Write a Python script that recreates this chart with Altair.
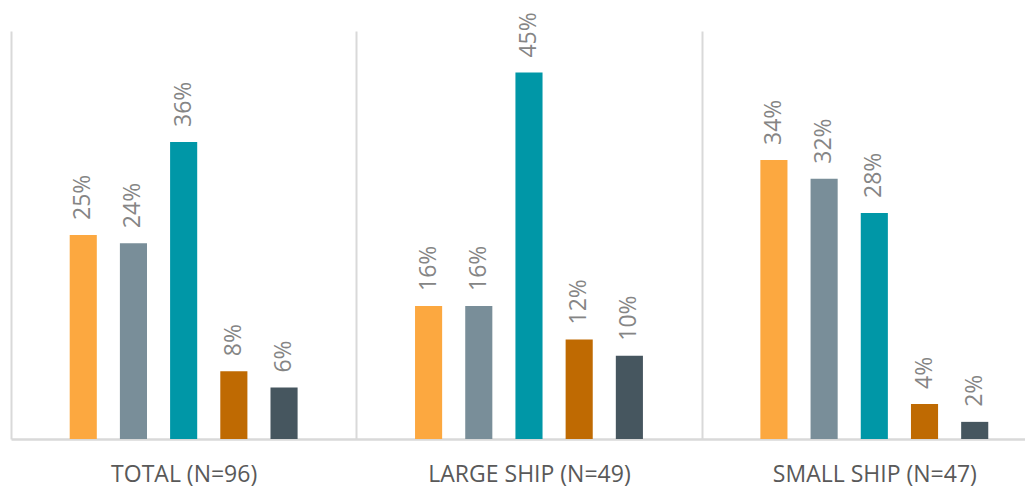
import altair as alt
import pandas as pd

groups = ["TOTAL (N=96)", "LARGE SHIP (N=49)", "SMALL SHIP (N=47)"]
categories = ["Option 1", "Option 2", "Option 3", "Option 4", "Option 5"]
total_values = [25.0, 24.0, 36.4, 8.3, 6.3]
large_values = [16.3, 16.3, 44.9, 12.2, 10.2]
small_values = [34.2, 31.9, 27.7, 4.3, 2.1]
colors = ["#FCA840", "#798E99", "#0097A7", "#BF6A02", "#46565F"]

rows = []
for g, vals in zip(groups, [total_values, large_values, small_values]):
    for c, v in zip(categories, vals):
        rows.append({"group": g, "category": c, "value": v})
df = pd.DataFrame(rows)

x_enc = alt.X(
    "group:N",
    sort=groups,
    scale=alt.Scale(range=[0, 1036], paddingInner=0, paddingOuter=0),
    axis=alt.Axis(
        title=None,
        labelAngle=0,
        labelFont="Open Sans",
        labelFontSize=23,
        labelColor="#595959",
        labelPadding=24,
        labelLimit=0,
        ticks=False,
        domainColor="#D9D9D9",
        domainWidth=2.5,
        grid=True,
        gridColor="#D9D9D9",
        gridWidth=2,
        tickBand="extent",
    ),
)
xoff_enc = alt.XOffset(
    "category:N",
    sort=categories,
    scale=alt.Scale(range=[58.7, 286.6], paddingInner=0.46, paddingOuter=0),
)
y_enc = alt.Y(
    "value:Q",
    scale=alt.Scale(domain=[0, 50], nice=False, zero=True),
    axis=None,
)

base = alt.Chart(df).encode(x=x_enc, xOffset=xoff_enc, y=y_enc)

bars = base.mark_bar().encode(
    color=alt.Color(
        "category:N",
        sort=categories,
        scale=alt.Scale(domain=categories, range=colors),
        legend=None,
    )
)

labels = base.transform_calculate(
    label="format(datum.value, '.0f') + '%'"
).mark_text(
    angle=270,
    align="left",
    baseline="middle",
    dx=15,
    font="Open Sans",
    fontSize=23,
    color="#858585",
).encode(text="label:N")

chart = (
    alt.layer(bars, labels)
    .properties(
        width=1014,
        height=408,
        autosize=alt.AutoSizeParams(type="none"),
        padding={"left": 3, "top": 23, "right": 0, "bottom": 52},
    )
    .configure_view(stroke=None)
)

chart.save("out.html", embed_options={"renderer": "svg", "actions": False})
